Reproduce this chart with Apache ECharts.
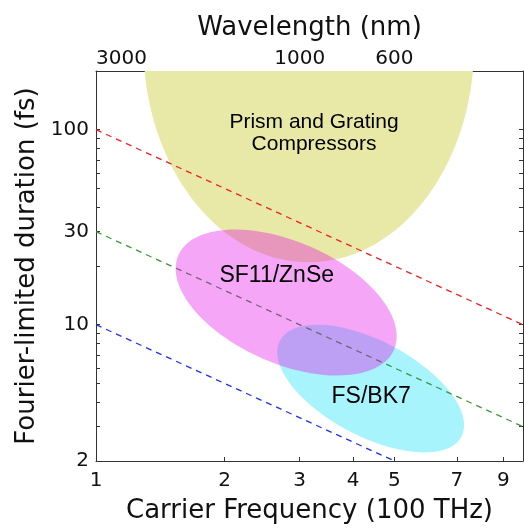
<!DOCTYPE html>
<html><head><meta charset="utf-8">
<script src="https://cdn.jsdelivr.net/npm/echarts@6/dist/echarts.min.js"></script>
<style>html,body{margin:0;padding:0;background:#fff}#c{width:524px;height:529px}</style>
</head><body><div id="c"></div>
<script>
// ---- data ----
const freqTickValues = [1, 2, 3, 4, 5, 7, 9];
const durationTickValues = [2, 3, 4, 5, 6, 7, 8, 9, 10, 20, 30, 40, 50, 60, 70, 80, 90, 100, 200];
const durationLabelValues = [2, 10, 30, 100];
const wavelengthLabelValues = [3000, 1000, 600];
const lineFreq = [1, 10];
const redDuration = [100, 10];
const greenDuration = [30, 3];
const blueDuration = [10, 1];
// ellipses: [center, end of first semi-axis, end of second semi-axis] as [freq, duration]
const prismEllipse = [[3.15, 271], [7.68, 271], [3.15, 20.9]];
const sf11Ellipse = [[2.79, 13.0], [4.99, 7.43], [2.43, 6.78]];
const fsEllipse = [[4.40, 4.70], [7.18, 2.67], [3.89, 2.87]];
const regionLabels = ['Prism and Grating\nCompressors', 'SF11/ZnSe', 'FS/BK7'];
const regionLabelPos = [[3.24, 96], [2.65, 17.8], [4.41, 4.26]];

// ---- chart ----
const L = Math.log10;
const AX = '#333';
const TXT = '#111';
const FONT = 'DejaVu Sans';

function ellipseSeries(pts, color, z) {
  return {
    type: 'custom', coordinateSystem: 'cartesian2d', z: z, silent: true, clip: true,
    data: [[L(pts[0][0]), L(pts[0][1]), L(pts[1][0]), L(pts[1][1]), L(pts[2][0]), L(pts[2][1])]],
    renderItem: function (params, api) {
      const c = api.coord([api.value(0), api.value(1)]);
      const a = api.coord([api.value(2), api.value(3)]);
      const b = api.coord([api.value(4), api.value(5)]);
      const rx = Math.hypot(a[0] - c[0], a[1] - c[1]);
      const ry = Math.hypot(b[0] - c[0], b[1] - c[1]);
      const ang = Math.atan2(a[1] - c[1], a[0] - c[0]);
      const cs = params.coordSys;
      return {
        type: 'group',
        clipPath: { type: 'rect', shape: { x: cs.x, y: cs.y, width: cs.width, height: cs.height } },
        children: [{
          type: 'ellipse', x: c[0], y: c[1], rotation: -ang,
          shape: { cx: 0, cy: 0, rx: rx, ry: ry },
          style: { fill: color }
        }]
      };
    }
  };
}

function lineSeries(durations, color) {
  return {
    type: 'line', z: 3, silent: true, symbol: 'none', clip: true,
    data: lineFreq.map((f, i) => [L(f), L(durations[i])]),
    lineStyle: { color: color, width: 1.3, type: [6, 5] }
  };
}

const chart = echarts.init(document.getElementById('c'), null, { renderer: 'canvas' });
chart.setOption({
  animation: false,
  backgroundColor: '#fff',
  grid: { left: 96, right: 1, top: 71, bottom: 62, containLabel: false },
  xAxis: [{
    type: 'value', position: 'bottom', min: 0, max: 1,
    axisLine: { show: true, onZero: false, lineStyle: { color: AX, width: 1 } },
    splitLine: { show: false },
    axisTick: { show: true, inside: true, length: 4, customValues: freqTickValues.map(L), lineStyle: { color: AX } },
    axisLabel: { customValues: freqTickValues.map(L), formatter: v => String(Math.round(Math.pow(10, v))),
      fontSize: 20, fontFamily: FONT, color: TXT, margin: 10 },
    name: 'Carrier Frequency (100 THz)', nameLocation: 'middle', nameGap: 37,
    nameTextStyle: { fontSize: 26, fontFamily: FONT, color: TXT }
  }, {
    type: 'value', position: 'top', min: 0, max: 1,
    axisLine: { show: true, onZero: false, lineStyle: { color: AX, width: 1 } },
    splitLine: { show: false },
    axisTick: { show: true, inside: true, length: 4, customValues: wavelengthLabelValues.map(w => L(3000 / w)), lineStyle: { color: AX } },
    axisLabel: { customValues: wavelengthLabelValues.map(w => L(3000 / w)), formatter: v => String(Math.round(3000 / Math.pow(10, v))),
      fontSize: 20, fontFamily: FONT, color: TXT, margin: 2, alignMinLabel: 'left' },
    name: 'Wavelength (nm)', nameLocation: 'middle', nameGap: 30,
    nameTextStyle: { fontSize: 26, fontFamily: FONT, color: TXT }
  }],
  yAxis: [{
    type: 'value', position: 'left', min: L(2), max: L(200),
    axisLine: { show: true, onZero: false, lineStyle: { color: AX, width: 1 } },
    splitLine: { show: false },
    axisTick: { show: true, inside: true, length: 4, customValues: durationTickValues.map(L), lineStyle: { color: AX } },
    axisLabel: { customValues: durationLabelValues.map(L), formatter: v => String(Math.round(Math.pow(10, v))),
      fontSize: 20, fontFamily: FONT, color: TXT, margin: 7 },
    name: 'Fourier-limited duration (fs)', nameLocation: 'middle', nameGap: 52, nameRotate: 90,
    nameTextStyle: { fontSize: 26, fontFamily: FONT, color: TXT }
  }, {
    type: 'value', position: 'right', min: L(2), max: L(200),
    axisLine: { show: true, onZero: false, lineStyle: { color: AX, width: 1 } },
    splitLine: { show: false },
    axisTick: { show: true, inside: true, length: 4, customValues: durationTickValues.map(L), lineStyle: { color: AX } },
    axisLabel: { show: false }
  }],
  series: [
    ellipseSeries(prismEllipse, 'rgb(233,233,167)', 1),
    ellipseSeries(fsEllipse, 'rgb(168,244,252)', 2),
    lineSeries(redDuration, '#f02020'),
    lineSeries(greenDuration, '#3a9a3a'),
    lineSeries(blueDuration, '#2030f0'),
    ellipseSeries(sf11Ellipse, 'rgba(230,0,230,0.35)', 4),
    {
      type: 'custom', coordinateSystem: 'cartesian2d', z: 6, silent: true,
      data: regionLabelPos.map((p, i) => [L(p[0]), L(p[1]), i]),
      renderItem: function (params, api) {
        const pt = api.coord([api.value(0), api.value(1)]);
        const i = api.value(2);
        return {
          type: 'text', x: pt[0], y: pt[1],
          style: { text: regionLabels[i], fontSize: i === 0 ? 21 : 23, fontFamily: 'Liberation Sans, Arial',
            fill: '#000', align: 'center', verticalAlign: 'middle', lineHeight: 22 }
        };
      }
    }
  ]
});
</script>
</body></html>
